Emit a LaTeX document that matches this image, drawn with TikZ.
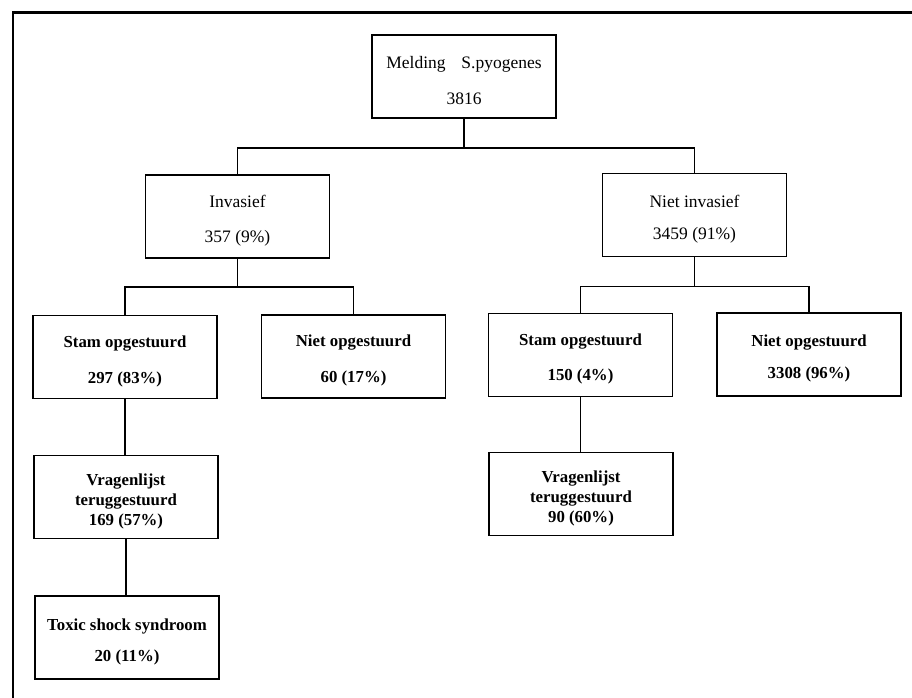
\documentclass[tikz,border=0pt]{standalone}
\usepackage{fontspec}
\setmainfont{Liberation Serif}
\newcommand{\toppad}{\rule{0pt}{20pt}}
\begin{document}
\begin{tikzpicture}[x=1pt,y=-1pt,
  box/.style={draw, line width=1.5pt, minimum width=184pt, minimum height=83pt, inner sep=0pt, align=center, font=\fontsize{17.5}{20}\selectfont},
  bbox/.style={box, font=\fontsize{16.8}{20}\selectfont\bfseries},
  link/.style={line width=1.5pt},
  frameline/.style={line width=2.2pt}]
\useasboundingbox (0,0) rectangle (912,698);
% frame (only top and left edges are visible)
\coordinate (fbl) at (13,698);
\coordinate (ftl) at (13,12.5);
\coordinate (ftr) at (912,12.5);
\draw[frameline] (fbl) -- (ftl) -- (ftr);
% boxes
\node[box]  (mel)   at (464,76.5)  {\toppad Melding\hspace{0.9em}S.pyogenes\\[16pt]3816};
\node[box]  (inv)   at (237.5,216.5) {\toppad Invasief\\[15pt]357 (9\%)};
\node[box]  (niet)  at (694.5,215) {\toppad Niet invasief\\[12pt]3459 (91\%)};
\node[bbox] (staml) at (125,357)   {\toppad Stam opgestuurd\\[16pt]297 (83\%)};
\node[bbox] (nietl) at (353.5,356.5) {\toppad Niet opgestuurd\\[16pt]60 (17\%)};
\node[bbox] (stamr) at (580.5,355) {\toppad Stam opgestuurd\\[15pt]150 (4\%)};
\node[bbox] (nietr) at (809,354.5) {\toppad Niet opgestuurd\\[12pt]3308 (96\%)};
\node[bbox] (vragl) at (126,497)   {\toppad Vragenlijst\\teruggestuurd\\169 (57\%)};
\node[bbox] (vragr) at (581,494)   {\toppad Vragenlijst\\teruggestuurd\\90 (60\%)};
\node[bbox] (toxic) at (127,637.5) {\toppad Toxic shock syndroom\\[11pt]20 (11\%)};
% connectors
\draw[link] (mel.south) -- ++(0,29) coordinate (j1);
\draw[link] (inv.north) |- (j1) -| (niet.north);
\draw[link] (inv.south) -- ++(0,28) coordinate (j2);
\draw[link] (staml.north) |- (j2) -| (nietl.north);
\draw[link] (niet.south) -- ++(0,29) coordinate (j3);
\draw[link] (stamr.north) |- (j3) -| (nietr.north);
\draw[link] (staml.south) -- (vragl.north -| staml.south);
\draw[link] (stamr.south) -- (vragr.north -| stamr.south);
\draw[link] (vragl.south) -- (toxic.north -| vragl.south);
\end{tikzpicture}
\end{document}
